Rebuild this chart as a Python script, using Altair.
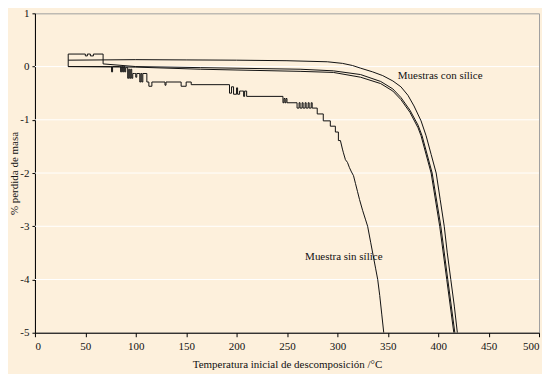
import altair as alt
import pandas as pd

FONT = "Liberation Serif"

# Muestra sin sílice (stepped curve)
sin_T = [33, 75, 76, 76, 77, 77, 84, 85, 85, 86, 86, 87, 87, 88, 88, 89, 89, 90, 90, 91,
         92, 92, 93, 93, 94, 94, 95, 95, 96, 96, 97, 97, 99,
         100, 100, 101, 101, 104, 104, 105, 105, 106, 106, 107, 107, 111, 111,
         113, 113, 116, 116, 129, 129, 130, 130, 145, 145, 150, 150, 155, 155,
         193, 193, 195, 195, 197, 197, 200, 200, 201, 201, 203, 203, 205,
         205, 207, 207, 208, 208, 210, 210, 246,
         246, 247, 247, 248, 248, 249, 249, 250, 250, 260, 260, 262, 262, 263, 263, 265, 265,
         266, 266, 268, 268, 269, 269, 271, 271, 272, 272, 274, 274, 275, 275, 280,
         280, 286, 286, 293, 293, 298, 298, 301, 301, 303,
         305, 306, 308, 310, 312, 314, 316, 318, 320, 322, 325, 328, 330, 333, 336, 338,
         340, 342, 344, 346]
sin_y = [0, 0, 0, -0.1, -0.1, 0, 0, 0, -0.1, -0.1, 0, 0, -0.1, -0.1, 0, 0, -0.1, -0.1, -0.02, -0.02,
         -0.02, -0.22, -0.22, -0.05, -0.05, -0.22, -0.22, -0.05, -0.05, -0.22, -0.22, -0.13, -0.13,
         -0.13, -0.2, -0.2, -0.13, -0.13, -0.29, -0.29, -0.13, -0.13, -0.29, -0.29, -0.13, -0.13, -0.29,
         -0.29, -0.37, -0.37, -0.29, -0.29, -0.35, -0.35, -0.29, -0.29, -0.37, -0.37, -0.29, -0.29, -0.34,
         -0.34, -0.5, -0.5, -0.38, -0.38, -0.52, -0.52, -0.4, -0.4, -0.52, -0.52, -0.46, -0.46,
         -0.46, -0.46, -0.56, -0.56, -0.46, -0.46, -0.56, -0.56,
         -0.68, -0.68, -0.6, -0.6, -0.68, -0.68, -0.6, -0.6, -0.68, -0.68, -0.78, -0.78, -0.68, -0.68, -0.78, -0.78, -0.68,
         -0.68, -0.78, -0.78, -0.68, -0.68, -0.78, -0.78, -0.68, -0.68, -0.78, -0.78, -0.68, -0.68, -0.78, -0.78,
         -0.89, -0.89, -1.02, -1.02, -1.12, -1.12, -1.23, -1.23, -1.39, -1.39,
         -1.55, -1.62, -1.75, -1.8, -1.9, -1.98, -2.05, -2.2, -2.35, -2.5, -2.7, -2.88, -3.0, -3.3, -3.6, -3.8,
         -4.0, -4.3, -4.65, -5.0]

# Muestras con sílice (three curves)
conA_T = [33, 100, 150, 200, 250, 290, 305, 315, 323, 335, 345, 355, 363, 370, 376, 383, 388,
          393, 398, 402, 406, 409, 412.5, 416, 419]
conA_y = [0.12, 0.13, 0.125, 0.12, 0.11, 0.09, 0.06, 0.02, -0.03, -0.1, -0.17, -0.27, -0.38, -0.54,
          -0.74, -1.02, -1.3, -1.65, -2.0, -2.5, -3.0, -3.5, -4.0, -4.5, -5.0]
conB_T = [33, 33, 50, 50, 52, 52, 55, 55, 58, 58, 67.6, 67.6, 100, 164, 263, 296, 323, 343, 355,
          363, 372, 380, 384, 394, 402.6, 409.5, 416.5]
conB_y = [0, 0.235, 0.235, 0.2, 0.2, 0.235, 0.235, 0.2, 0.2, 0.235, 0.235, 0.05, 0.0, -0.02, -0.05,
          -0.08, -0.15, -0.28, -0.42, -0.58, -0.82, -1.1, -1.3, -2.0, -3.0, -4.0, -5.0]
conC_T = [33, 100, 164, 263, 296, 323, 343, 355, 363, 372, 380, 383, 393, 401.5, 408.5, 415.5]
conC_y = [0, -0.01, -0.05, -0.09, -0.11, -0.2, -0.32, -0.46, -0.62, -0.86, -1.15, -1.3, -2.0,
          -3.0, -4.0, -5.0]

x_ticks = [0, 50, 100, 150, 200, 250, 300, 350, 400, 450, 500]
y_ticks = [-5, -4, -3, -2, -1, 0, 1]
grid_values = [-4, -3, -2, -1, 0]

label_text = ["Muestras con sílice", "Muestra sin sílice"]
label_T = [360, 268]
label_y = [-0.17, -3.57]

rows = []
for name, ts, ys in [("sin", sin_T, sin_y), ("A", conA_T, conA_y),
                     ("B", conB_T, conB_y), ("C", conC_T, conC_y)]:
    for i, (t, v) in enumerate(zip(ts, ys)):
        rows.append({"serie": name, "T": t, "y": v, "i": i})
df = pd.DataFrame(rows)

H = 320
xscale = alt.Scale(domain=[0, 500], nice=False, zero=False)
yscale = alt.Scale(domain=[-5, 1], nice=False, zero=False)

XT = "Temperatura inicial de descomposición /°C"
YT = "% perdida de masa"

x_axis = alt.Axis(values=x_ticks, grid=False, domainColor="black", tickColor="black",
                  tickSize=4, labelFont=FONT, labelFontSize=11, labelColor="#111",
                  labelPadding=4, title=XT,
                  titleFont=FONT, titleFontSize=11, titleFontWeight="normal",
                  titleColor="#111", titleY=32, titleBaseline="middle")
y_axis = alt.Axis(values=y_ticks, grid=False, domainColor="black", tickColor="black",
                  tickSize=3, labelFont=FONT, labelFontSize=11, labelColor="#111",
                  labelPadding=3, labelExpr="'' + datum.value",
                  title=YT, titleFont=FONT, titleFontSize=11,
                  titleFontWeight="normal", titleColor="#111", titleX=-20,
                  titleY=H / 2, titleBaseline="middle", titleAlign="center")

grid = alt.Chart(pd.DataFrame({"g": grid_values})).mark_rule(
    color="white", strokeWidth=1).encode(
    y=alt.Y("g:Q", scale=yscale, axis=y_axis, title=YT))

lines = alt.Chart(df).mark_line(color="#111", strokeWidth=1, clip=True).encode(
    x=alt.X("T:Q", scale=xscale, axis=x_axis, title=XT),
    y=alt.Y("y:Q", scale=yscale, axis=y_axis, title=YT),
    detail="serie:N",
    order="i:Q",
)

texts = alt.Chart(pd.DataFrame({"t": label_text, "T": label_T, "y": label_y})).mark_text(
    font=FONT, fontSize=11, color="#111", align="left", baseline="middle").encode(
    x=alt.X("T:Q", scale=xscale, axis=x_axis, title=XT),
    y=alt.Y("y:Q", scale=yscale, axis=y_axis, title=YT),
    text="t:N",
)

chart = alt.layer(grid, lines, texts).properties(
    width=505, height=H,
    background="#FDF0DC",
    padding={"left": 27, "top": 5, "right": 3, "bottom": 41},
    autosize=alt.AutoSizeParams(type="none"),
).configure_view(stroke="#a0a0a0", strokeWidth=1, fill="#FDF0DC")

chart.save("out.html", embed_options={"renderer": "svg", "actions": False})
